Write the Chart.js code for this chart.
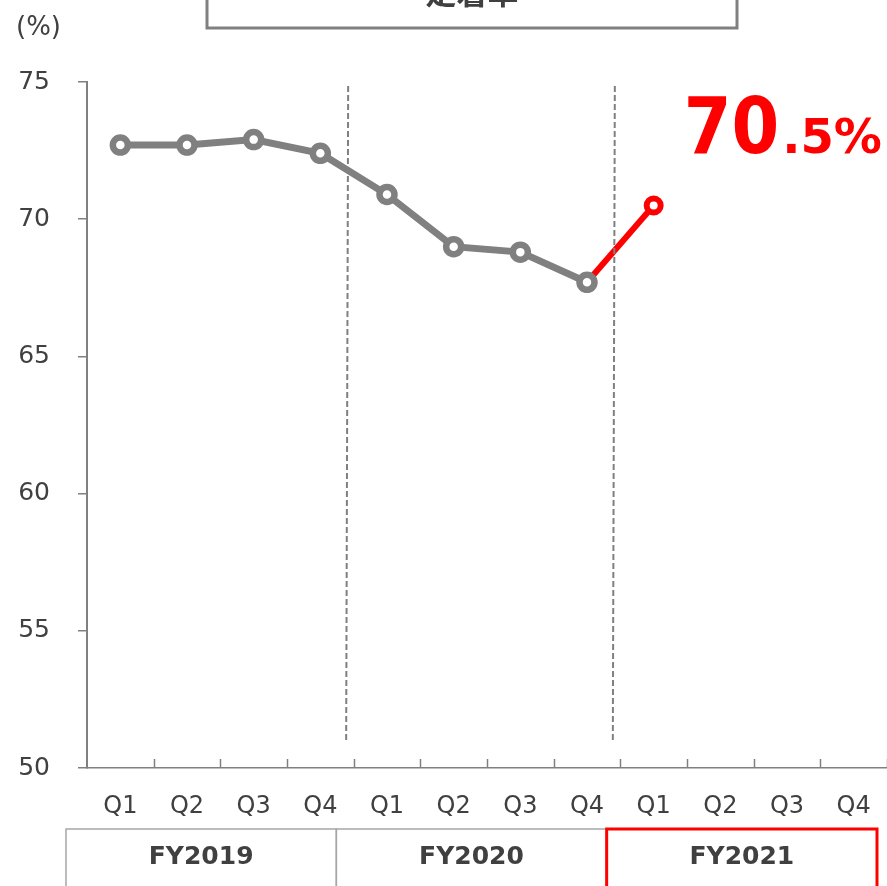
<!DOCTYPE html>
<html>
<head>
<meta charset="utf-8">
<script src="https://cdn.jsdelivr.net/npm/chart.js@4"></script>
<style>
    body { margin: 0; background: #ffffff; }
    #wrap { position: relative; width: 887px; height: 886px; overflow: hidden; }
</style>
</head>
<body>
<div id="wrap"><canvas id="chartCanvas" width="887" height="886"></canvas></div>
<script>
// Quarter labels and fiscal year groups
const quarters = ['Q1', 'Q2', 'Q3', 'Q4', 'Q1', 'Q2', 'Q3', 'Q4', 'Q1', 'Q2', 'Q3', 'Q4'];
const fiscalYears = ['FY2019', 'FY2020', 'FY2021'];

// Retention rate (%) - past quarters in gray, latest quarter in red
const pastRate = [72.7, 72.7, 72.9, 72.4, 70.9, 69.0, 68.8, 67.7, null, null, null, null];
const latestRate = [null, null, null, null, null, null, null, 67.7, 70.5, null, null, null];
const latestPointSize = [0, 0, 0, 0, 0, 0, 0, 0, 7, 0, 0, 0];

const yTicks = [50, 55, 60, 65, 70, 75];
const titleText = '定着率';
const unitText = '(%)';

const textColor = '#404040';
const gray = '#808080';
const red = '#FF0000';
const font = "'DejaVu Sans', sans-serif";

/**
 * @brief Draws the title box, unit, callout, divider lines, x ticks and year boxes.
 */
const decorPlugin = {
    id: 'decor',
    afterDraw(chart) {
        const ctx = chart.ctx;
        const x = chart.scales.x;
        const area = chart.chartArea;
        const catW = x.width / quarters.length;
        ctx.save();

        // Title box, cut off at top of the picture
        ctx.strokeStyle = gray;
        ctx.lineWidth = 3;
        ctx.strokeRect(207, -40, 530, 68);
        ctx.fillStyle = textColor;
        ctx.font = "bold 31px 'Noto Sans CJK JP', sans-serif";
        ctx.textAlign = 'center';
        ctx.textBaseline = 'alphabetic';
        ctx.fillText(titleText, 472, 4);

        // Unit label
        ctx.font = '26px ' + font;
        ctx.textAlign = 'left';
        ctx.textBaseline = 'middle';
        ctx.fillText(unitText, 16, 28);

        // Dashed year dividers
        ctx.strokeStyle = gray;
        ctx.lineWidth = 2;
        ctx.setLineDash([6, 3]);
        for (let i = 1; i < fiscalYears.length; i++) {
            const bx = x.getPixelForValue(i * 4) - catW / 2 - 6.5;
            ctx.beginPath();
            ctx.moveTo(bx + 1, area.top + 4);
            ctx.lineTo(bx - 1, area.bottom - 28);
            ctx.stroke();
        }
        ctx.setLineDash([]);

        // Inward tick marks on the x axis
        ctx.lineWidth = 1.5;
        for (let i = 1; i <= quarters.length; i++) {
            const tx = Math.round(x.getPixelForValue(i) - catW / 2) + 0.5;
            ctx.beginPath();
            ctx.moveTo(tx, area.bottom);
            ctx.lineTo(tx, area.bottom - 9);
            ctx.stroke();
        }

        // Fiscal year boxes
        const boxLeft = x.left - 21;
        const boxW = (x.right - 10 - boxLeft) / fiscalYears.length;
        const boxTop = 829;
        ctx.font = 'bold 25px ' + font;
        ctx.textAlign = 'center';
        ctx.textBaseline = 'middle';
        fiscalYears.forEach((fy, i) => {
            const bl = boxLeft + i * boxW;
            if (i === fiscalYears.length - 1) {
                ctx.strokeStyle = red;
                ctx.lineWidth = 3;
            } else {
                ctx.strokeStyle = '#a6a6a6';
                ctx.lineWidth = 1.5;
            }
            ctx.strokeRect(bl, boxTop, boxW, 100);
            ctx.fillStyle = textColor;
            ctx.fillText(fy, bl + boxW / 2, boxTop + 28);
        });

        // Callout for the latest value
        const meta = chart.getDatasetMeta(1);
        const idx = latestRate.findIndex((v, i) => v !== null && latestPointSize[i] > 0);
        const pt = meta.data[idx];
        const val = latestRate[idx].toFixed(1).split('.');
        ctx.fillStyle = red;
        ctx.textAlign = 'left';
        ctx.textBaseline = 'alphabetic';
        const lx = pt.x + 30;
        const ly = pt.y - 52;
        ctx.font = 'bold 78px ' + font;
        const sx = 0.88;
        ctx.save();
        ctx.translate(lx, ly);
        ctx.scale(sx, 1);
        ctx.fillText(val[0], 0, 0);
        ctx.restore();
        const w0 = ctx.measureText(val[0]).width * sx;
        ctx.font = 'bold 48px ' + font;
        ctx.fillText('.' + val[1] + '%', lx + w0 + 3, ly);

        ctx.restore();
    }
};

const ctx = document.getElementById('chartCanvas').getContext('2d');
const chart = new Chart(ctx, {
    type: 'line',
    data: {
        labels: quarters,
        datasets: [
            {
                data: pastRate,
                borderColor: gray,
                borderWidth: 7,
                pointRadius: 7.5,
                pointBorderWidth: 6.5,
                pointBackgroundColor: '#ffffff',
                pointBorderColor: gray,
                tension: 0,
            },
            {
                data: latestRate,
                borderColor: red,
                borderWidth: 6,
                pointRadius: latestPointSize,
                pointBorderWidth: 6,
                pointBackgroundColor: '#ffffff',
                pointBorderColor: red,
                tension: 0,
            }
        ]
    },
    options: {
        responsive: false,
        animation: false,
        devicePixelRatio: 1,
        events: [],
        layout: {
            autoPadding: false,
            padding: { top: 82, right: 0, left: 0, bottom: 0 }
        },
        plugins: {
            legend: { display: false },
            tooltip: { enabled: false }
        },
        scales: {
            x: {
                offset: true,
                grid: { display: false, drawTicks: false },
                border: { display: true, color: gray, width: 1.5 },
                ticks: {
                    color: textColor,
                    font: { family: font, size: 24 },
                    padding: 24,
                    maxRotation: 0,
                    autoSkip: false
                },
                afterFit: scale => {
                    scale.height = 118;
                    scale.paddingRight = 0;
                    scale.paddingLeft = 0;
                }
            },
            y: {
                min: yTicks[0],
                max: yTicks[yTicks.length - 1],
                afterBuildTicks: scale => {
                    scale.ticks = yTicks.map(v => ({ value: v }));
                },
                grid: {
                    drawOnChartArea: false,
                    tickLength: 9,
                    color: gray,
                    lineWidth: 1.5
                },
                border: { display: true, color: gray, width: 2 },
                ticks: {
                    color: textColor,
                    font: { family: font, size: 25 },
                    padding: 28
                },
                afterFit: scale => { scale.width = 87; }
            }
        }
    },
    plugins: [decorPlugin]
});
</script>
</body>
</html>
